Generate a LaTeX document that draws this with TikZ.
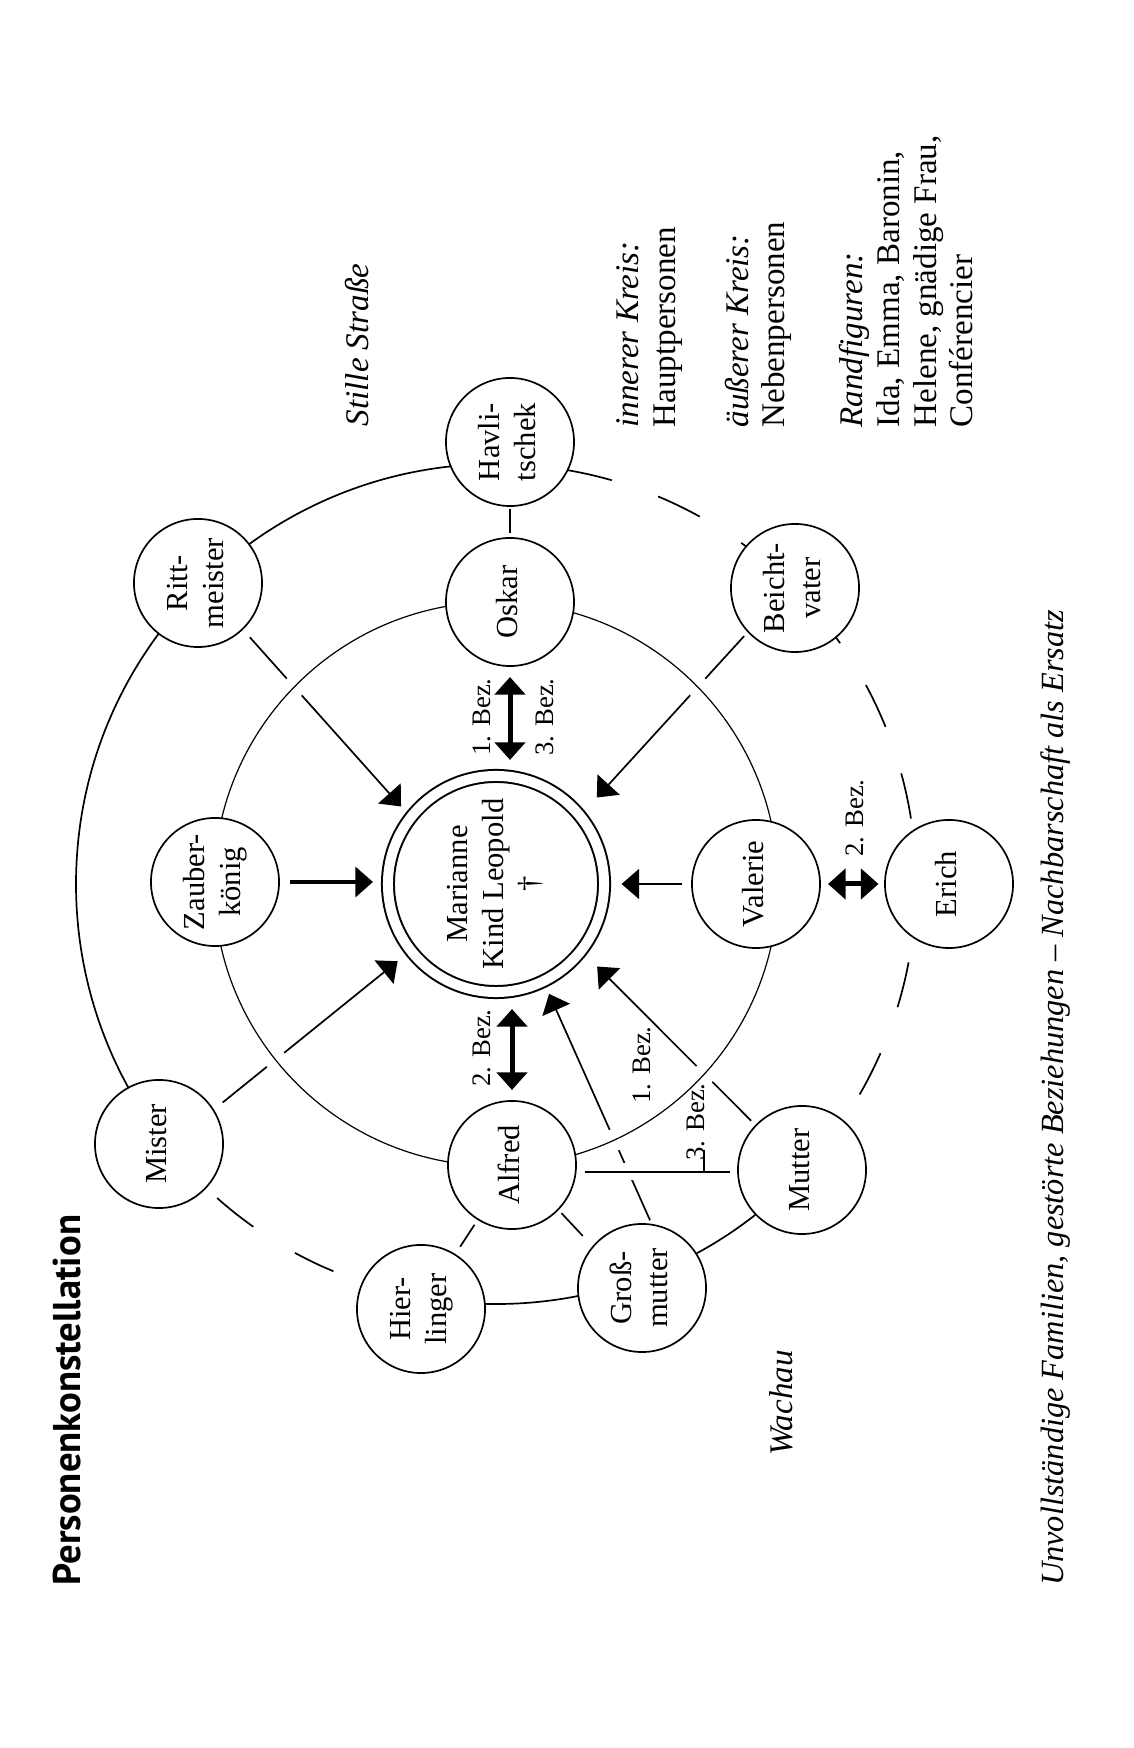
\documentclass[tikz,border=0pt]{standalone}
\usepackage{fontspec}
\setmainfont{Liberation Serif}
\newfontfamily\titlefont{PT Sans}
\usepackage{graphicx}
\usepackage{tikz}
\usetikzlibrary{arrows.meta,backgrounds}
\def\rt#1{\rotatebox{90}{\begin{tabular}{@{}c@{}}#1\end{tabular}}}

\begin{document}
\begin{tikzpicture}[x=0.01cm,y=0.01cm,shorten >=1pt,
	person/.style={circle,draw,fill=white,line width=0.17mm,minimum size=1.28cm,inner sep=0pt,outer sep=0pt,font=\fontsize{8.7}{10.3}\selectfont},
	heroine/.style={circle,draw,fill=white,double,double distance=1mm,line width=0.2mm,minimum size=2.16cm,inner sep=0pt,outer sep=0pt,font=\fontsize{8.7}{10.3}\selectfont},
	rel/.style={-{Triangle[length=1.75mm,width=3mm]},line width=0.17mm},
	mutual/.style={{Triangle[length=1.75mm,width=3mm]}-{Triangle[length=1.75mm,width=3mm]},line width=0.5mm},
	link/.style={line width=0.17mm},
	ring/.style={line width=0.17mm},
	inring/.style={line width=0.12mm},
	dashring/.style={line width=0.17mm,dash pattern=on 4.62mm off 4.91mm},
	whitegap/.style={preaction={draw=white,line width=#1}},
	bez/.style={rotate=90,inner sep=0pt,font=\fontsize{7.6}{9}\selectfont},
	locus/.style={rotate=90,inner sep=0pt,font=\fontsize{9.4}{11}\selectfont\itshape}
]
\useasboundingbox (0,0) rectangle (1134,1748);

\node[heroine]		(p_mar)		at (496,864)		{\rt{Marianne\\Kind Leopold\\\textdagger}};
\node[person]		(p_osk)		at (510,1146)		{\rt{Oskar}};
\node[person]		(p_val)		at (756,864)		{\rt{Valerie}};
\node[person]		(p_alf)		at (512,583)		{\rt{Alfred}};
\node[person]		(p_zau)		at (215,866)		{\rt{Zauber-\\könig}};
\node[person]		(p_hav)		at (510,1306)		{\rt{Havli-\\tschek}};
\node[person]		(p_rit)		at (198,1165)		{\rt{Ritt-\\meister}};
\node[person]		(p_mis)		at (159,604)		{\rt{Mister}};
\node[person]		(p_hie)		at (421,439)		{\rt{Hier-\\linger}};
\node[person]		(p_gro)		at (642,460)		{\rt{Groß-\\mutter}};
\node[person]		(p_mut)		at (802,578)		{\rt{Mutter}};
\node[person]		(p_eri)		at (949,864)		{\rt{Erich}};
\node[person]		(p_bei)		at (795,1160)		{\rt{Beicht-\\vater}};

\begin{scope}[on background layer]
\draw[ring]		([shift={(88:420)}]p_mar.center) arc[start angle=88,end angle=218,radius=420];
\draw[dashring]	([shift={(228.4:420)}]p_mar.center) arc[start angle=228.4,end angle=247.7,radius=420];
\draw[ring]		([shift={(260:420)}]p_mar.center) arc[start angle=260,end angle=317,radius=420];
\draw[dashring]	([shift={(80.3:420)}]p_mar.center) arc[start angle=80.3,end angle=-45,radius=420];
\path[rel]
(p_rit.-46)		edge[shorten <=1.1mm,shorten >=1.47mm]		(p_mar.142.4)
(p_mis.32.5)	edge[shorten <=1.2mm,shorten >=1.7mm]		(p_mar.218.1)
(p_bei.223.4)	edge[shorten <=0.6mm,shorten >=2.5mm]		(p_mar.39.6)
(p_mut.136.9)	edge[shorten <=0.67mm,shorten >=2.26mm]		(p_mar.-38.3)
(p_gro.81.6)	edge[shorten <=0.5mm,shorten >=1.4mm]		(p_mar.-64.3)
;
\draw[link,whitegap=1.7mm,shorten <=0.9mm,shorten >=0.8mm] (p_alf.-6) -- coordinate[pos=0.79] (tick) (p_alf.-6 -| p_mut.west);
\draw[inring,whitegap=2.2mm] (p_mar.center) circle[radius=282];
\end{scope}

\path[mutual]
(p_osk.south)	edge[shorten <=1.1mm,shorten >=1.6mm]		(p_osk.south |- p_mar.north)
(p_alf.north)	edge[shorten <=1.1mm,shorten >=1.7mm]		(p_alf.north |- p_mar.south)
(p_val.east)	edge[shorten <=0.8mm,shorten >=0.65mm]		(p_eri.west)
;
\path[rel]
(p_zau.east)	edge[line width=0.33mm,shorten <=1.1mm,shorten >=1.5mm]	(p_zau.east -| p_mar.west)
(p_val.west)	edge[shorten <=0.95mm,shorten >=1.75mm]		(p_mar.east)
;
\path[link]
(p_hav.south)	edge[shorten <=0.3mm,shorten >=0.5mm]		(p_osk.north)
(p_alf.-44)		edge[shorten <=0.5mm,shorten >=1.5mm]		(p_gro.140)
(p_alf.238)		edge[shorten <=0.65mm,shorten >=0.95mm]		(p_hie.58)
;
\draw[link] (tick) -- ++(0,25);

\node[bez]		(b_osk1)	at (481.5,1031)		{1. Bez.};
\node[bez]		(b_osk3)	at (545,1031)		{3. Bez.};
\node[bez]		(b_alf)		at (481.5,700)		{2. Bez.};
\node[bez]		(b_eri)		at (855,930)		{2. Bez.};
\node[bez]		(b_gro)		at (642,683)		{1. Bez.};
\node[bez]		(b_mut)		at (696,626)		{3. Bez.};

\node[locus]	(l_stille)	at (357,1403)		{Stille Straße};
\node[locus]	(l_wachau)	at (781,345)		{Wachau};

\node[rotate=90,inner sep=0pt,font=\titlefont\bfseries\fontsize{11}{13}\selectfont]	(title)		at (67,348)		{Personenkonstellation};
\node[rotate=90,inner sep=0pt,font=\fontsize{9.2}{11}\selectfont\itshape]			(caption)	at (1056,650)	{Unvollständige Familien, gestörte Beziehungen – Nachbarschaft als Ersatz};
\node[rotate=90,anchor=north west,align=left,inner sep=0pt,font=\fontsize{9.4}{10.4}\selectfont]	(legend)	at (616,1320)
	{\textit{innerer Kreis:}\\Hauptpersonen\\[10.4pt]\textit{äußerer Kreis:}\\Nebenpersonen\\[11.8pt]\textit{Randfiguren:}\\Ida, Emma, Baronin,\\Helene, gnädige Frau,\\Conférencier};
\end{tikzpicture}
\end{document}
